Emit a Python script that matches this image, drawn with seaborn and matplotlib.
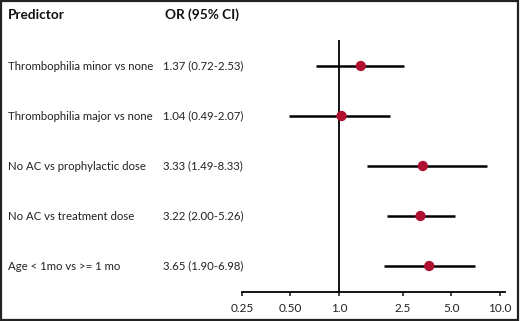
import matplotlib
matplotlib.use("Agg")
import matplotlib.pyplot as plt
import matplotlib.transforms as mtransforms
from matplotlib.patches import Rectangle
import pandas as pd
import seaborn as sns

# Forest plot data
predictors = [
    "Thrombophilia minor vs none",
    "Thrombophilia major vs none",
    "No AC vs prophylactic dose",
    "No AC vs treatment dose",
    "Age < 1mo vs >= 1 mo",
]
odds_ratio = [1.37, 1.04, 3.33, 3.22, 3.65]
ci_low = [0.72, 0.49, 1.49, 2.00, 1.90]
ci_high = [2.53, 2.07, 8.33, 5.26, 6.98]
x_ticks = [0.25, 0.5, 1.0, 2.5, 5.0, 10.0]
x_tick_labels = ["0.25", "0.50", "1.0", "2.5", "5.0", "10.0"]

df = pd.DataFrame({
    "predictor": predictors,
    "or": odds_ratio,
    "lo": ci_low,
    "hi": ci_high,
})
df["row"] = range(1, len(df) + 1)
df["label"] = [f"{o:.2f} ({l:.2f}-{h:.2f})" for o, l, h in zip(df["or"], df["lo"], df["hi"])]

sns.set_style("white")
plt.rcParams["font.family"] = ["Lato", "DejaVu Sans"]

W, H = 520, 321
fig = plt.figure(figsize=(5.2, 3.21), dpi=100)
ax = fig.add_axes([242 / W, 1 - 292 / H, (505 - 242) / W, (292 - 40) / H])

ax.axvline(1.0, color="black", lw=1.3, zorder=1)
ax.hlines(df["row"], df["lo"], df["hi"], color="black", lw=1.8, zorder=2)
sns.scatterplot(data=df, x="or", y="row", ax=ax, color="#b0102f", s=55,
                edgecolor="none", zorder=3)

ax.set_xscale("log")
ax.set_xlim(0.25, 10.8)
ax.set_ylim(5.52, 0.48)
ax.set_xticks(x_ticks)
ax.set_xticklabels(x_tick_labels)
ax.minorticks_off()
ax.set_yticks([])
ax.set_xlabel("")
ax.set_ylabel("")
for s in ["top", "left", "right"]:
    ax.spines[s].set_visible(False)
ax.spines["bottom"].set_color("black")
ax.spines["bottom"].set_linewidth(1.3)
ax.tick_params(axis="x", bottom=True, direction="out", length=3, width=1.2,
               labelsize=8.5, colors="#222222", pad=5)

# left text columns
trans = mtransforms.blended_transform_factory(fig.transFigure, ax.transData)
for _, r in df.iterrows():
    ax.text(8 / W, r["row"], r["predictor"], transform=trans, ha="left",
            va="center", fontsize=8.2, color="#222222")
    ax.text(163 / W, r["row"], r["label"], transform=trans, ha="left",
            va="center", fontsize=8.2, color="#222222")

fig.text(8 / W, 1 - 15 / H, "Predictor", ha="left", va="center",
         fontsize=9.8, fontweight="bold", color="#111111")
fig.text(165 / W, 1 - 15 / H, "OR (95% CI)", ha="left", va="center",
         fontsize=9.8, fontweight="bold", color="#111111")

fig.patches.append(Rectangle((0.002, 0.003), 0.995, 0.994, transform=fig.transFigure,
                             fill=False, edgecolor="#222222", lw=1.6))

fig.savefig("out.png", dpi=100)
